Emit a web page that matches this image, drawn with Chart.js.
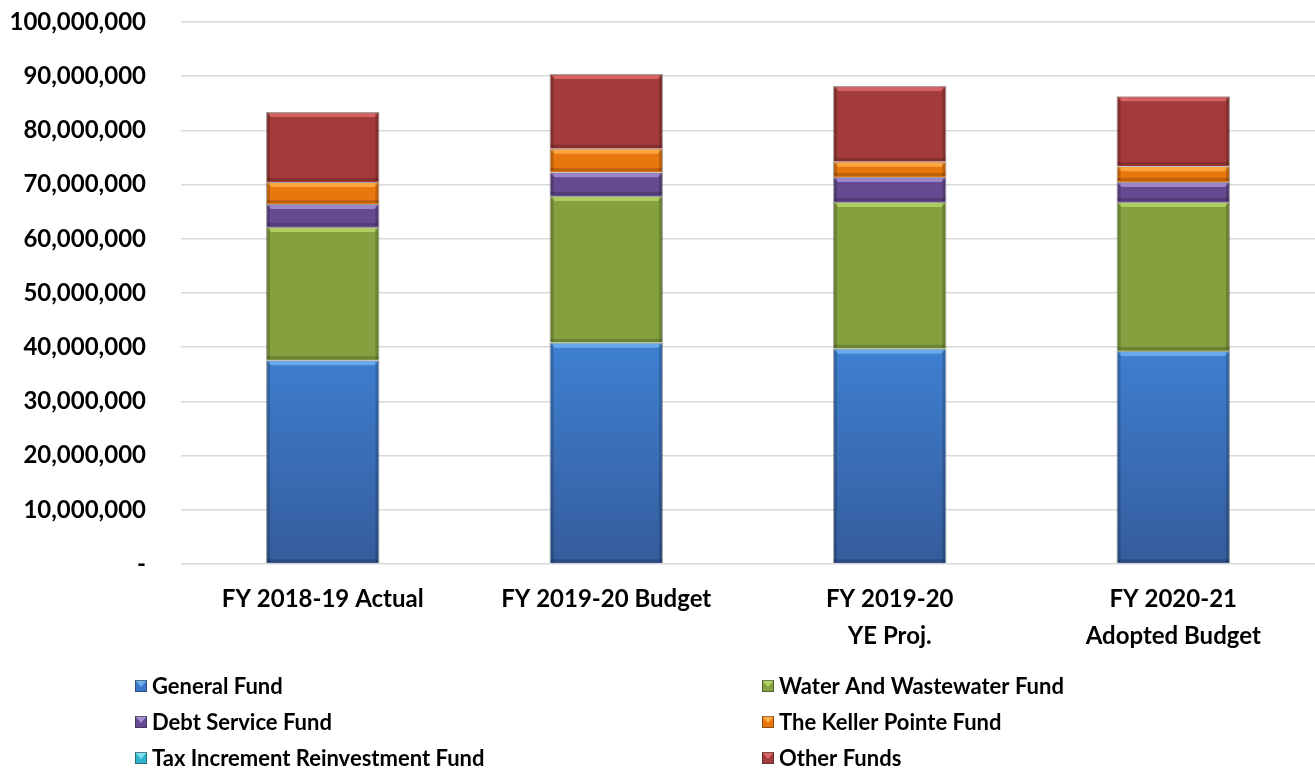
<!DOCTYPE html>
<html>
<head>
<meta charset="utf-8">
<script src="https://cdn.jsdelivr.net/npm/chart.js@4.4.0/dist/chart.umd.min.js"></script>
<style>
  html, body { margin: 0; padding: 0; background: #ffffff; }
  #wrap { width: 1315px; height: 769px; position: relative; }
</style>
</head>
<body>
<div id="wrap"><canvas id="myChart" width="1315" height="769"></canvas></div>
<script>
const categorias = ["FY 2018-19 Actual", "FY 2019-20 Budget", ["FY 2019-20", "YE Proj."], ["FY 2020-21", "Adopted Budget"]];

const generalFund = [37600000, 40800000, 39700000, 39300000];
const waterFund = [24600000, 27100000, 27100000, 27500000];
const debtFund = [4200000, 4400000, 4600000, 3700000];
const kellerFund = [4100000, 4300000, 2800000, 2900000];
const tirFund = [0, 0, 0, 0];
const otherFunds = [12900000, 13800000, 14000000, 12900000];

const yTicks = [0, 10000000, 20000000, 30000000, 40000000, 50000000, 60000000, 70000000, 80000000, 90000000, 100000000];

const fuente = "Lato, 'Liberation Sans', sans-serif";

// colores: base, brillo superior
const colores = {
    general: ["#3b78cb", "#6fb0ee"],
    water: ["#84a03f", "#b6d36a"],
    debt: ["#654a91", "#a58fd3"],
    keller: ["#e8770e", "#ffae45"],
    tirf: ["#2fb3cb", "#7fe0ef"],
    other: ["#a33b3a", "#db6b6a"]
};

const gradienteAzul = (ctx) => {
    const area = ctx.chart.chartArea;
    if (!area) return colores.general[0];
    const g = ctx.chart.ctx.createLinearGradient(0, area.bottom, 0, area.bottom - 230);
    g.addColorStop(0, "#355c9c");
    g.addColorStop(1, "#3f82d4");
    return g;
};

const datasets = [
    { label: "General Fund", data: generalFund, backgroundColor: gradienteAzul, brillo: colores.general[1], legendColor: colores.general[0] },
    { label: "Water And Wastewater Fund", data: waterFund, backgroundColor: colores.water[0], brillo: colores.water[1] },
    { label: "Debt Service Fund", data: debtFund, backgroundColor: colores.debt[0], brillo: colores.debt[1] },
    { label: "The Keller Pointe Fund", data: kellerFund, backgroundColor: colores.keller[0], brillo: colores.keller[1] },
    { label: "Tax Increment Reinvestment Fund", data: tirFund, backgroundColor: colores.tirf[0], brillo: colores.tirf[1] },
    { label: "Other Funds", data: otherFunds, backgroundColor: colores.other[0], brillo: colores.other[1] }
].map((d) => Object.assign({
    borderColor: "rgba(40,40,40,0.45)",
    borderWidth: 1,
    barPercentage: 0.4,
    categoryPercentage: 1
}, d));

// efecto bisel estilo Excel
const bisel = {
    id: "bisel",
    afterDatasetsDraw(chart) {
        const ctx = chart.ctx;
        chart.data.datasets.forEach((ds, i) => {
            const meta = chart.getDatasetMeta(i);
            meta.data.forEach((bar) => {
                const p = bar.getProps(["x", "y", "base", "width"], true);
                const h = p.base - p.y;
                if (h < 4) return;
                const left = p.x - p.width / 2;
                ctx.save();
                ctx.fillStyle = ds.brillo;
                ctx.globalAlpha = 0.85;
                ctx.beginPath();
                ctx.moveTo(left + 1, p.y + 1);
                ctx.lineTo(left + p.width - 1, p.y + 1);
                ctx.lineTo(left + p.width - 5, p.y + 5);
                ctx.lineTo(left + 5, p.y + 5);
                ctx.closePath();
                ctx.fill();
                ctx.globalAlpha = 0.18;
                ctx.fillStyle = "#000";
                ctx.fillRect(left + 1, p.y + 1, 3, h - 2);
                ctx.fillRect(left + p.width - 4, p.y + 1, 3, h - 2);
                ctx.fillRect(left + 1, p.base - 4, p.width - 2, 3);
                ctx.restore();
            });
        });
    }
};

// leyenda en dos columnas
const leyenda = {
    id: "leyenda",
    afterDraw(chart) {
        const ctx = chart.ctx;
        const columnas = [135, 762];
        ctx.save();
        ctx.font = "bold 22px " + fuente;
        ctx.textBaseline = "middle";
        ctx.textAlign = "left";
        chart.data.datasets.forEach((ds, i) => {
            const x = columnas[i % 2];
            const y = 686 + Math.floor(i / 2) * 36;
            const c = ds.legendColor || ds.backgroundColor;
            ctx.fillStyle = c;
            ctx.fillRect(x, y - 6, 12, 12);
            ctx.fillStyle = ds.brillo;
            ctx.beginPath();
            ctx.moveTo(x, y - 6);
            ctx.lineTo(x + 12, y - 6);
            ctx.lineTo(x + 6, y + 1);
            ctx.closePath();
            ctx.fill();
            ctx.strokeStyle = "rgba(40,40,40,0.5)";
            ctx.lineWidth = 1;
            ctx.strokeRect(x + 0.5, y - 5.5, 11, 11);
            ctx.fillStyle = "#000";
            ctx.fillText(ds.label, x + 17, y + 1);
        });
        ctx.restore();
    }
};

const config = {
    type: "bar",
    data: { labels: categorias, datasets },
    options: {
        responsive: false,
        animation: false,
        layout: { padding: { top: 22, right: 0, bottom: 105, left: 0 } },
        plugins: {
            legend: { display: false },
            tooltip: { enabled: false },
            title: { display: false }
        },
        scales: {
            x: {
                stacked: true,
                grid: { display: false, drawTicks: false },
                border: { display: false },
                ticks: {
                    color: "#000",
                    font: { family: fuente, size: 24, weight: "bold", lineHeight: 1.54 },
                    padding: 17,
                    maxRotation: 0,
                    autoSkip: false
                },
                afterFit: (s) => { s.height = 100; s.paddingLeft = 0; s.paddingRight = 0; }
            },
            y: {
                stacked: true,
                min: 0,
                max: 100000000,
                afterBuildTicks: (s) => { s.ticks = yTicks.map((v) => ({ value: v })); },
                grid: { color: "#d9d9d9", lineWidth: 1.5, drawTicks: false },
                border: { display: false },
                ticks: {
                    color: "#000",
                    font: { family: fuente, size: 24, weight: "bold" },
                    padding: 35,
                    callback: (v) => v === 0 ? "-" : Number(v).toLocaleString("en-US")
                },
                afterFit: (s) => { s.width = 181; s.paddingTop = 0; s.paddingBottom = 0; }
            }
        }
    },
    plugins: [bisel, leyenda]
};

const grafico = new Chart(document.getElementById("myChart"), config);
</script>
</body>
</html>
